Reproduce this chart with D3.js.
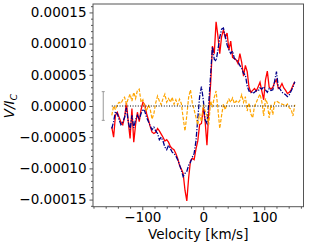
<!DOCTYPE html>
<html>
<head>
<meta charset="utf-8">
<script src="https://cdn.jsdelivr.net/npm/d3@7"></script>
<style>
    body { margin: 0; background: #fff; }
    text { font-family: "DejaVu Sans", sans-serif; }
</style>
</head>
<body>
<div id="plot"></div>
<script>

// velocity grid, km/s (3 km/s steps from -150 to 150)
var velocity = d3.range(-150, 151, 3);

// values in units of 1e-5
var stokesV = [
    -3.4, -5.0, -1.5, -1.0, -1.8, -2.6, -3.0, -1.8, 0.5, -2.5,
    -5.2, -0.4, -5.8, -3.0, -1.0, -2.5, -0.6, 0.6, 0.2, -1.2,
    -2.2, -3.3, -4.2, -4.4, -4.2, -3.6, -4.0, -4.5, -5.0, -5.6,
    -5.4, -5.8, -6.5, -6.8, -7.0, -7.6, -8.4, -9.5, -10.1, -10.8,
    -13.5, -15.2, -11.5, -8.8, -8.4, -8.6, -6.9, -5.6, -3.0, -2.8,
    -0.3, -2.4, -6.3, -1.0, 3.5, 9.6, 8.4, 13.5, 11.2, 8.4,
    11.1, 12.2, 11.0, 11.7, 9.0, 10.4, 7.8, 7.6, 7.4, 6.8,
    8.4, 7.0, 4.8, 6.5, 5.5, 3.0, 2.2, 2.5, 2.8, 2.4,
    3.1, 3.8, 2.4, 1.0, 4.2, 5.6, 3.0, 2.7, 3.0, 3.8,
    4.2, 2.8, 3.0, 3.6, 2.9, 2.5, 2.0, 2.2, 2.6, 3.3,
    3.9
];

var modelV = [
    -3.6, -2.5, -0.9, -1.2, -2.2, -3.0, -2.6, -1.8, -0.3, -2.5,
    -3.8, -1.5, -3.5, -2.2, -1.5, -2.2, -1.2, -0.5, -0.8, -1.8,
    -2.5, -3.2, -3.8, -3.4, -4.0, -4.4, -5.4, -5.0, -5.6, -6.6,
    -7.0, -6.3, -6.8, -7.4, -7.6, -8.0, -8.6, -9.4, -10.3, -11.3,
    -10.8, -10.5, -9.5, -9.0, -8.2, -7.6, -5.6, -2.0, 1.5, 3.1,
    1.0, -2.2, -2.8, 0.5, 5.0, 9.5, 7.5, 7.2, 9.0, 11.0,
    12.3, 12.5, 11.2, 9.8, 9.0, 8.4, 8.8, 7.6, 7.4, 7.1,
    6.5, 6.0, 5.2, 5.0, 3.2, 2.4, 2.4, 2.0, 2.2, 2.5,
    2.4, 2.9, 2.7, 3.1, 2.6, 2.2, 2.8, 2.5, 2.6, 4.0,
    5.5, 3.0, 2.7, 2.2, 2.0, 1.8, 1.5, 1.8, 2.4, 3.0,
    3.9
];

var nullN = [
    -1.5, 0.0, -0.6, 0.3, 0.6, 0.4, 1.0, 1.4, 0.3, 1.2,
    1.9, 0.8, 2.2, 1.2, 2.5, 2.7, 0.6, 1.0, -0.2, -0.8,
    0.2, -0.5, -2.1, -1.2, 0.5, 1.6, 0.8, 0.2, 1.2, 1.9,
    0.6, 1.2, 0.6, 1.4, 0.3, 1.0, 0.2, 1.1, 0.4, -1.9,
    -4.0, -1.5, 1.4, 2.6, 0.5, -0.6, -1.8, -3.0, -1.2, -2.5,
    0.2, -0.8, -1.5, -3.0, 0.8, -0.2, 1.4, 2.4, -0.5, -3.6,
    -1.5, 0.3, -0.6, 0.5, 1.1, 0.6, 1.3, 0.4, 0.8, 0.5,
    0.9, 1.8, 0.6, 1.5, -0.8, 0.5, -1.3, -1.9, 0.0, 0.6,
    1.3, 1.9, 0.7, -1.6, 1.2, 0.4, -1.9, 0.2, -1.4, 0.6,
    0.8, 0.6, 0.4, 0.3, 0.2, 0.0, 0.3, -0.3, -0.5, -1.6,
    0.2
];

// typical error bar, drawn at the left side
var errBar = [{ v: -164, y: 0, err: 2.3 }];

var yTicks = [-15, -10, -5, 0, 5, 10, 15];
var xTicks = [-100, 0, 100];

window.onload = function(){

    buildChart();

};

function buildChart(){

    var margin = {
        left: 93,
        top: 4,
        right: 5.5,
        bottom: 38.3
    };

    var width = 309 - margin.left - margin.right;
    var height = 245 - margin.top - margin.bottom;

    var xScale = d3.scaleLinear()
        .domain([-180.8, 164.3])
        .range([0, width]);

    var yScale = d3.scaleLinear()
        .domain([-16.14, 16.35])
        .range([height, 0]);

    var svg = d3.select("#plot")
        .append("svg")
        .attr("width", 309)
        .attr("height", 245)
        .append("g")
        .attr("transform", "translate(" + margin.left + "," + margin.top + ")");

    svg.append("clipPath")
        .attr("id", "clip")
        .append("rect")
        .attr("width", width)
        .attr("height", height);

    var plot = svg.append("g").attr("clip-path", "url(#clip)");

    function series(values){
        return velocity.map((v, i) => ({ v: v, y: values[i] }));
    }

    var line = d3.line()
        .x(d => xScale(d.v))
        .y(d => yScale(d.y));

    // observed V
    plot.append("path")
        .datum(series(stokesV))
        .attr("d", line)
        .style("fill", "none")
        .style("stroke", "#ff0000")
        .style("stroke-width", 1.3);

    // model
    plot.append("path")
        .datum(series(modelV))
        .attr("d", line)
        .style("fill", "none")
        .style("stroke", "#00008b")
        .style("stroke-width", 1.3)
        .style("stroke-dasharray", "5,1.5,1.2,1.5");

    // null profile
    plot.append("path")
        .datum(series(nullN))
        .attr("d", line)
        .style("fill", "none")
        .style("stroke", "#ffa500")
        .style("stroke-width", 1.2)
        .style("stroke-dasharray", "3.5,1.6");

    // zero line
    plot.append("path")
        .datum([{ v: velocity[0], y: 0 }, { v: velocity[velocity.length - 1], y: 0 }])
        .attr("d", line)
        .style("fill", "none")
        .style("stroke", "#000")
        .style("stroke-width", 1)
        .style("stroke-dasharray", "1,1.6");

    // error bar
    var eb = plot.selectAll(".errbar")
        .data(errBar)
        .enter()
        .append("g")
        .style("stroke", "#999")
        .style("stroke-width", 1);

    eb.append("line")
        .attr("x1", d => xScale(d.v))
        .attr("x2", d => xScale(d.v))
        .attr("y1", d => yScale(d.y + d.err))
        .attr("y2", d => yScale(d.y - d.err));

    eb.append("line")
        .attr("x1", d => xScale(d.v) - 1.5)
        .attr("x2", d => xScale(d.v) + 1.5)
        .attr("y1", d => yScale(d.y + d.err))
        .attr("y2", d => yScale(d.y + d.err));

    eb.append("line")
        .attr("x1", d => xScale(d.v) - 1.5)
        .attr("x2", d => xScale(d.v) + 1.5)
        .attr("y1", d => yScale(d.y - d.err))
        .attr("y2", d => yScale(d.y - d.err));

    // axes
    var fmtY = d3.format(".5f");

    var yAxis = svg.append("g")
        .call(d3.axisLeft(yScale)
            .tickValues(yTicks)
            .tickSize(3.5)
            .tickPadding(3)
            .tickFormat(d => fmtY(d * 1e-5)));

    var yMinor = svg.append("g")
        .call(d3.axisLeft(yScale)
            .tickValues(d3.range(-16, 17, 1).filter(d => d % 5 != 0))
            .tickSize(2)
            .tickFormat(""));

    var xAxis = svg.append("g")
        .attr("transform", "translate(0," + height + ")")
        .call(d3.axisBottom(xScale)
            .tickValues(xTicks)
            .tickSize(3.5)
            .tickPadding(2.5));

    var xMinor = svg.append("g")
        .attr("transform", "translate(0," + height + ")")
        .call(d3.axisBottom(xScale)
            .tickValues([-180, -160, -140, -120, -80, -60, -40, -20, 20, 40, 60, 80, 120, 140, 160])
            .tickSize(2)
            .tickFormat(""));

    [yAxis, yMinor, xAxis, xMinor].forEach(a => {
        a.select(".domain").remove();
        a.selectAll(".tick line").style("stroke", "#555");
        a.selectAll("text")
            .style("font-family", "DejaVu Sans")
            .style("font-size", "13.5px")
            .style("fill", "#000");
    });

    // frame
    svg.append("rect")
        .attr("width", width)
        .attr("height", height)
        .style("fill", "none")
        .style("stroke", "#555")
        .style("stroke-width", 1);

    // axis labels
    svg.append("text")
        .attr("x", width / 2)
        .attr("y", height + 32)
        .attr("text-anchor", "middle")
        .style("font-size", "13.5px")
        .text("Velocity [km/s]");

    var yl = svg.append("text")
        .attr("transform", "translate(" + (14 - margin.left) + "," + (106 - margin.top) + ") rotate(-90)")
        .attr("text-anchor", "middle")
        .style("font-size", "13.5px");

    yl.append("tspan").style("font-style", "italic").text("V/I");
    yl.append("tspan").style("font-style", "italic").style("font-size", "9.5px").attr("dy", 2.5).text("C");

}

</script>
</body>
</html>
